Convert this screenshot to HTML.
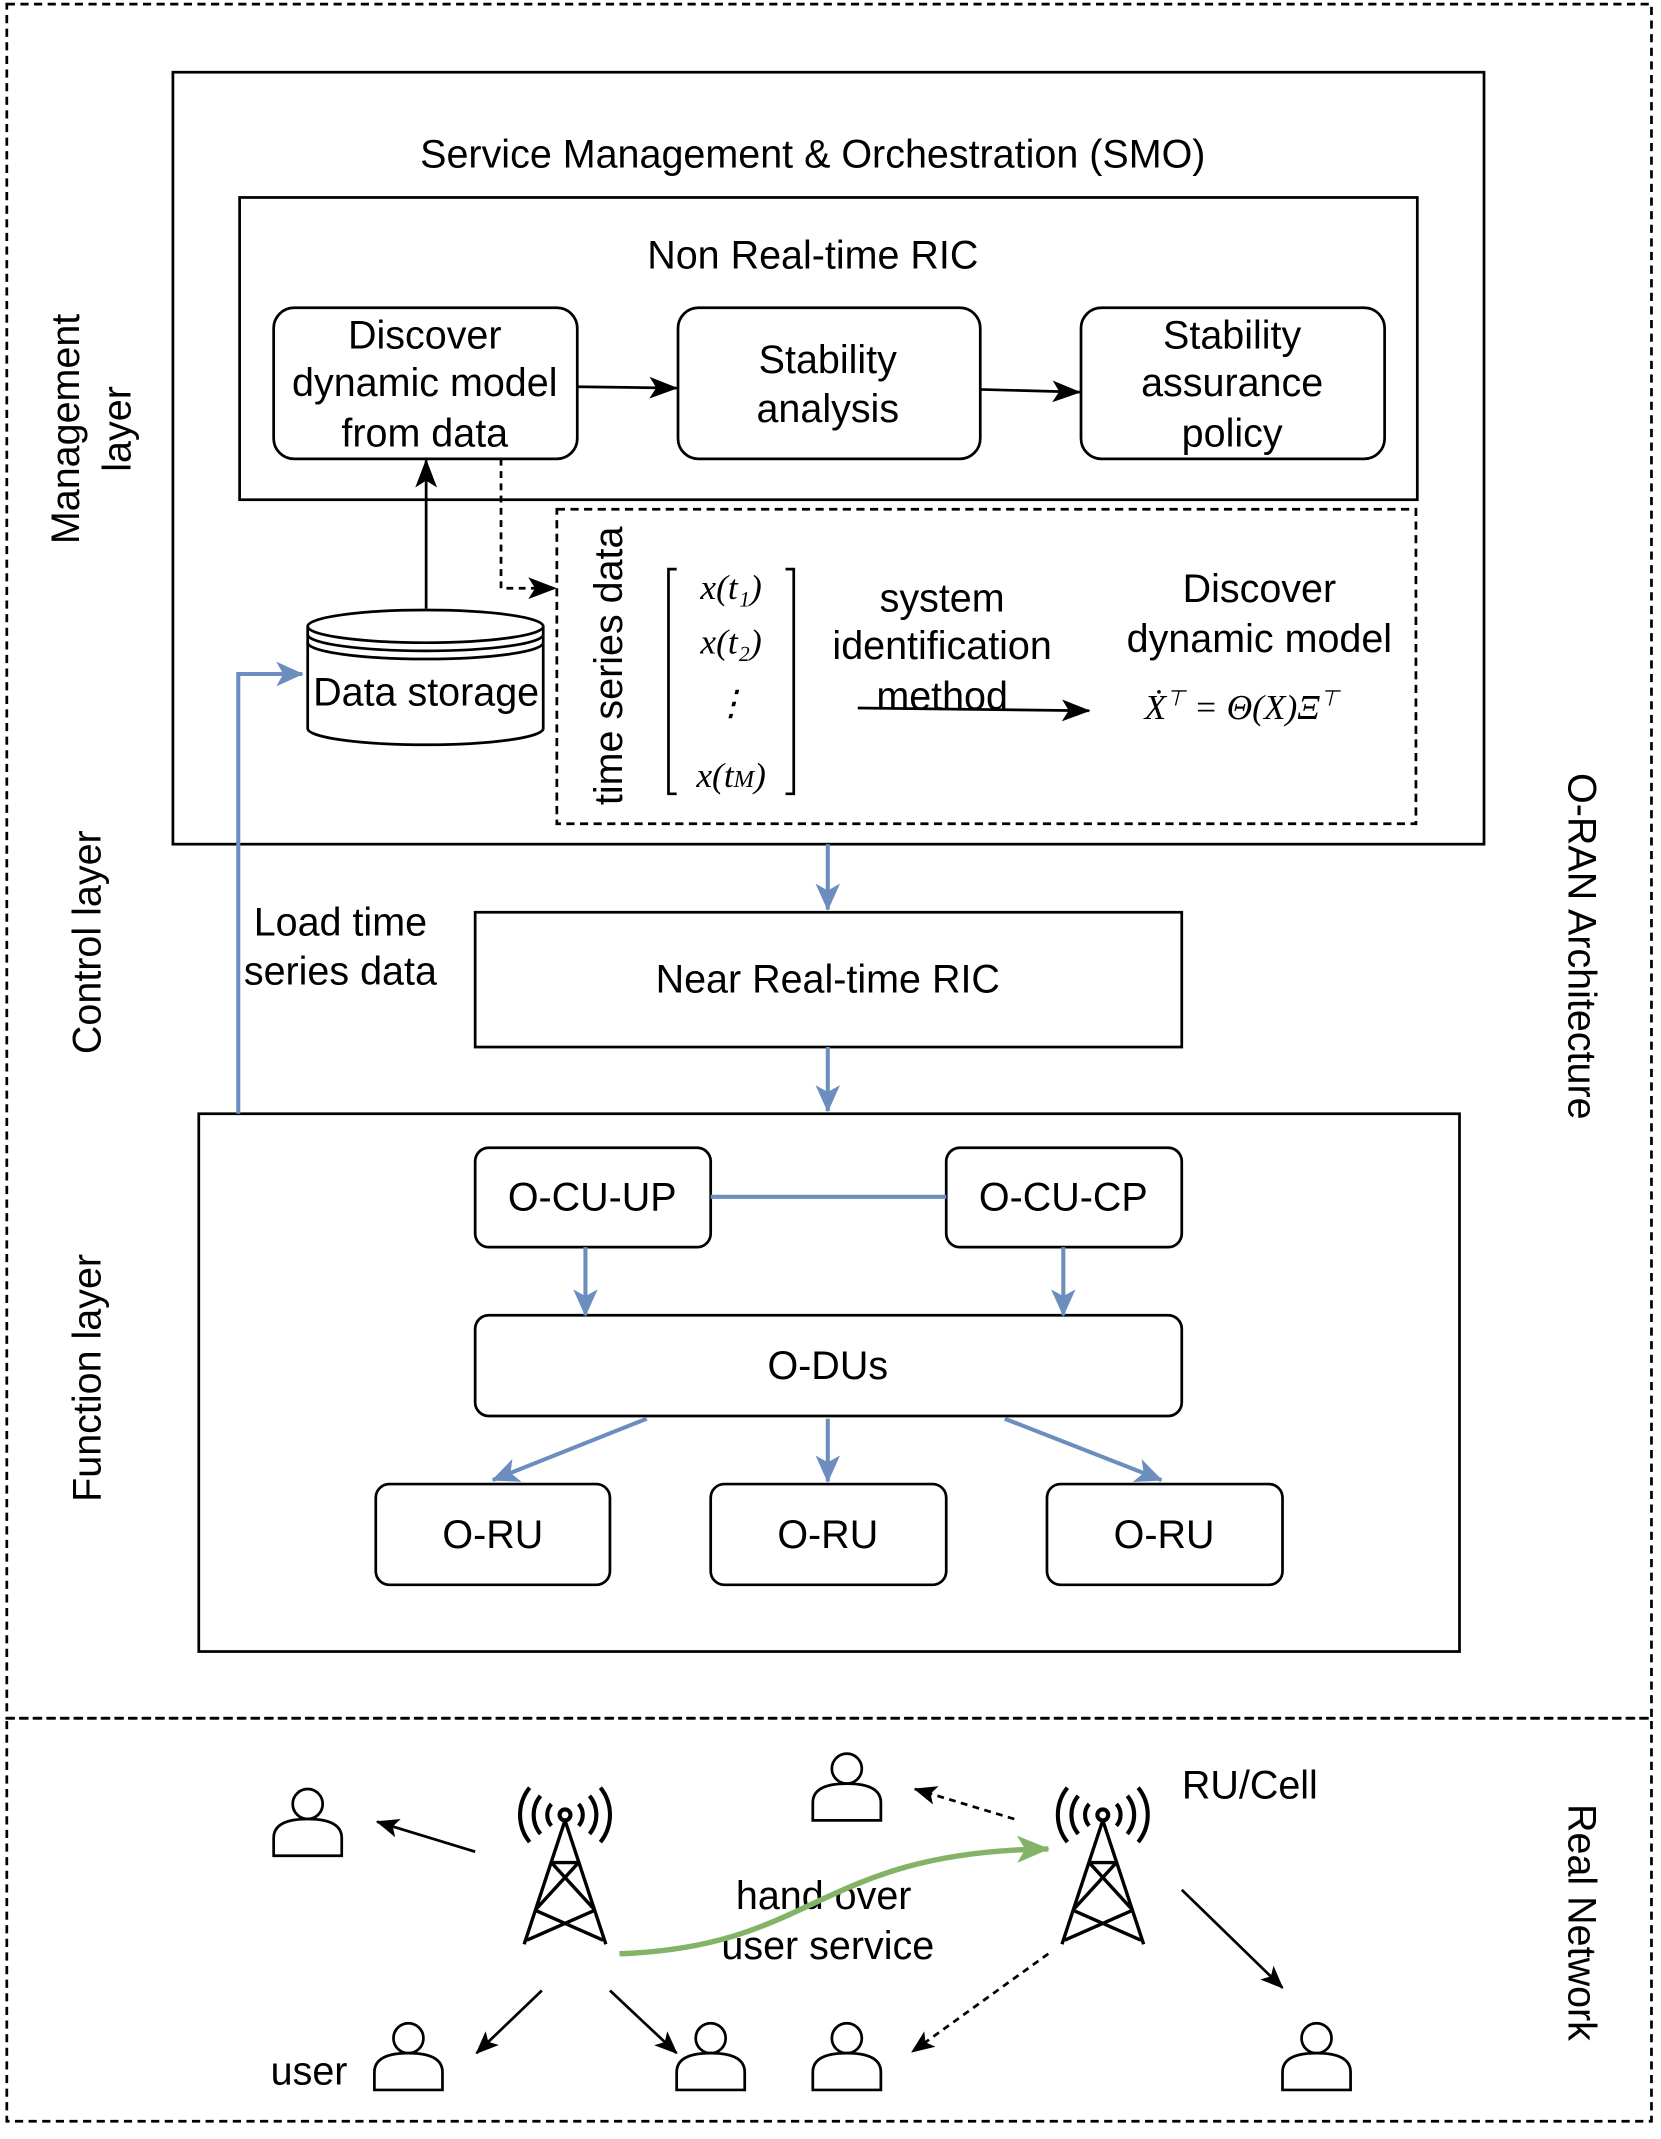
<!DOCTYPE html>
<html><head><meta charset="utf-8"><style>
html,body{margin:0;padding:0;background:#fff}
svg{display:block}
text{font-family:"Liberation Sans",sans-serif;fill:#000}
.m{font-family:"Liberation Serif",serif;font-style:italic}
</style></head><body>
<svg width="1661" height="2139" viewBox="0 0 1220 1571" xmlns="http://www.w3.org/2000/svg">
<defs>
<marker id="ab" markerWidth="22" markerHeight="18" refX="20" refY="9" orient="auto" markerUnits="userSpaceOnUse"><path d="M0,1 L21,9 L0,17 L5,9z" fill="#000"/></marker>
<marker id="ablue" markerWidth="22" markerHeight="20" refX="19" refY="10" orient="auto" markerUnits="userSpaceOnUse"><path d="M0,1 L20,10 L0,19 L5,10z" fill="#6c8ebf"/></marker>
<marker id="ag" markerWidth="26" markerHeight="22" refX="23" refY="11" orient="auto" markerUnits="userSpaceOnUse"><path d="M0,1 L24,11 L0,21 L6,11z" fill="#82b366"/></marker>
<marker id="ao" markerWidth="18" markerHeight="16" refX="16" refY="8" orient="auto" markerUnits="userSpaceOnUse"><path d="M0,1 L17,8 L0,15 L4,8z" fill="#000"/></marker>
<g id="p"><circle cx="0" cy="-13" r="11" fill="#fff" stroke="#000" stroke-width="2"/><path d="M-25,25 L-25,12 Q-25,-2 0,-2 Q25,-2 25,12 L25,25 Z" fill="#fff" stroke="#000" stroke-width="2"/></g>
<g id="t" fill="none" stroke="#000" stroke-width="3">
<circle cx="0" cy="0" r="4"/>
<path d="M-10,-8 A12,12 0 0 0 -10,8 M10,-8 A12,12 0 0 1 10,8"/>
<path d="M-18,-14 A22,22 0 0 0 -18,14 M18,-14 A22,22 0 0 1 18,14"/>
<path d="M-26,-20 A32,32 0 0 0 -26,20 M26,-20 A32,32 0 0 1 26,20"/>
<path d="M0,4 L-30,95 M0,4 L30,95 M-10,35 L10,35 M-10,35 L22,70 M10,35 L-22,70 M-22,70 L28,92 M22,70 L-28,92" stroke-width="2.5"/>
</g>
</defs>
<g fill="none" stroke="#000" stroke-width="2">
<rect x="5" y="3" width="1208" height="1259" stroke-dasharray="6,4"/>
<rect x="5" y="1262" width="1208" height="296" stroke-dasharray="6,4"/>
<rect x="127" y="53" width="963" height="567"/>
<rect x="176" y="145" width="865" height="222"/>
<rect x="201" y="226" width="223" height="111" rx="15"/>
<rect x="498" y="226" width="222" height="111" rx="15"/>
<rect x="794" y="226" width="223" height="111" rx="15"/>
<rect x="409" y="374" width="631" height="231" stroke-dasharray="6,4"/>
<rect x="349" y="670" width="519" height="99"/>
<rect x="146" y="818" width="926" height="395"/>
<rect x="349" y="843" width="173" height="73" rx="10"/>
<rect x="695" y="843" width="173" height="73" rx="10"/>
<rect x="349" y="966" width="519" height="74" rx="10"/>
<rect x="276" y="1090" width="172" height="74" rx="10"/>
<rect x="522" y="1090" width="173" height="74" rx="10"/>
<rect x="769" y="1090" width="173" height="74" rx="10"/>
<line x1="424" y1="284" x2="497" y2="285" marker-end="url(#ab)"/>
<line x1="720" y1="286" x2="793" y2="288" marker-end="url(#ab)"/>
<line x1="313" y1="447" x2="313" y2="338" marker-end="url(#ab)"/>
<path d="M368,337 L368,432 L408,432" stroke-dasharray="5,4" marker-end="url(#ab)"/>
<line x1="630" y1="520" x2="800" y2="522" marker-end="url(#ab)"/>
<path d="M497,418 h-6 v165 h6 M577,418 h6 v165 h-6"/>
</g>
<g stroke="#000" stroke-width="2" fill="#fff">
<path d="M226,460 L226,535 A86.5,12 0 0 0 399,535 L399,460"/>
<ellipse cx="312.5" cy="460" rx="86.5" ry="12"/>
<path d="M226,466 A86.5,12 0 0 0 399,466 M226,472 A86.5,12 0 0 0 399,472" fill="none"/>
</g>
<g fill="none" stroke="#6c8ebf" stroke-width="3">
<path d="M175,818 L175,495 L222,495" marker-end="url(#ablue)"/>
<line x1="608" y1="620" x2="608" y2="668" marker-end="url(#ablue)"/>
<line x1="608" y1="769" x2="608" y2="816" marker-end="url(#ablue)"/>
<line x1="522" y1="879" x2="695" y2="879"/>
<line x1="430" y1="916" x2="430" y2="966" marker-end="url(#ablue)"/>
<line x1="781" y1="916" x2="781" y2="966" marker-end="url(#ablue)"/>
<line x1="475" y1="1042" x2="362" y2="1087" marker-end="url(#ablue)"/>
<line x1="608" y1="1042" x2="608" y2="1088" marker-end="url(#ablue)"/>
<line x1="738" y1="1042" x2="853" y2="1087" marker-end="url(#ablue)"/>
</g>
<g font-size="29" text-anchor="middle">
<text x="597" y="123">Service Management &amp; Orchestration (SMO)</text>
<text x="597" y="197">Non Real-time RIC</text>
<text x="312" y="256">Discover</text><text x="312" y="291">dynamic model</text><text x="312" y="328">from data</text>
<text x="608" y="274">Stability</text><text x="608" y="310">analysis</text>
<text x="905" y="256">Stability</text><text x="905" y="291">assurance</text><text x="905" y="328">policy</text>
<text x="313" y="518">Data storage</text>
<text x="692" y="449">system</text><text x="692" y="484">identification</text><text x="692" y="521">method</text>
<text x="925" y="442">Discover</text><text x="925" y="479">dynamic model</text>
<text x="250" y="687">Load time</text><text x="250" y="723">series data</text>
<text x="608" y="729">Near Real-time RIC</text>
<text x="435" y="889">O-CU-UP</text><text x="781" y="889">O-CU-CP</text>
<text x="608" y="1013">O-DUs</text>
<text x="362" y="1137">O-RU</text><text x="608" y="1137">O-RU</text><text x="855" y="1137">O-RU</text>
<text x="605" y="1402">hand over</text><text x="608" y="1439">user service</text>
<text x="227" y="1531">user</text>
<text x="918" y="1321">RU/Cell</text>
<text transform="translate(457,489) rotate(-90)">time series data</text>
<text transform="translate(58,315) rotate(-90)">Management</text>
<text transform="translate(96,315) rotate(-90)">layer</text>
<text transform="translate(74,692) rotate(-90)">Control layer</text>
<text transform="translate(74,1012) rotate(-90)">Function layer</text>
<text transform="translate(1152,695) rotate(90)">O-RAN Architecture</text>
<text transform="translate(1152,1412) rotate(90)">Real Network</text>
</g>
<g font-size="26" text-anchor="middle" class="m">
<text x="537" y="440" class="m">x(t₁)</text>
<text x="537" y="480" class="m">x(t₂)</text>
<text x="537" y="525" class="m">⋮</text>
<text x="537" y="578" class="m">x(t<tspan font-size="18">M</tspan>)</text>
<text x="912" y="528" class="m">Ẋ<tspan font-size="16" dy="-10">⊤</tspan><tspan dy="10"> = Θ(X)Ξ</tspan><tspan font-size="16" dy="-10">⊤</tspan></text>
</g>
<use href="#t" x="415" y="1333"/>
<use href="#t" x="810" y="1333"/>
<use href="#p" x="226" y="1338"/>
<use href="#p" x="622" y="1312"/>
<use href="#p" x="300" y="1510"/>
<use href="#p" x="522" y="1510"/>
<use href="#p" x="622" y="1510"/>
<use href="#p" x="967" y="1510"/>
<g fill="none" stroke="#000" stroke-width="2">
<line x1="349" y1="1360" x2="277" y2="1338" marker-end="url(#ao)"/>
<line x1="398" y1="1462" x2="350" y2="1508" marker-end="url(#ao)"/>
<line x1="448" y1="1462" x2="497" y2="1508" marker-end="url(#ao)"/>
<line x1="745" y1="1336" x2="672" y2="1314" stroke-dasharray="5,4" marker-end="url(#ao)"/>
<line x1="770" y1="1435" x2="670" y2="1507" stroke-dasharray="5,4" marker-end="url(#ao)"/>
<line x1="868" y1="1388" x2="942" y2="1460" marker-end="url(#ao)"/>
</g>
<path d="M455,1435 C600,1430 600,1360 770,1358" fill="none" stroke="#82b366" stroke-width="4" marker-end="url(#ag)"/>
</svg>
</body></html>
